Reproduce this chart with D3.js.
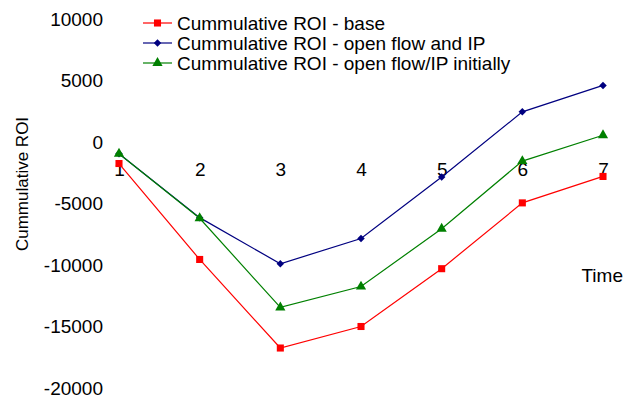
<!DOCTYPE html>
<html>
<head>
<meta charset="utf-8">
<script src="https://cdn.jsdelivr.net/npm/d3@7"></script>
<style>
  body { margin: 0; background: #fff; }
  text { font-family: "Liberation Sans", Arial, sans-serif; fill: #000; }
</style>
</head>
<body>
<svg></svg>
<script>
// values
var times = [1, 2, 3, 4, 5, 6, 7]
var roiBase = [-1750, -9550, -16750, -15000, -10300, -4950, -2800]
var roiOpen = [-950, -6150, -9900, -7850, -2850, 2450, 4600]
var roiInit = [-950, -6200, -13450, -11750, -7050, -1550, 550]
var yTicks = [10000, 5000, 0, -5000, -10000, -15000, -20000]
var seriesNames = ["Cummulative ROI - base", "Cummulative ROI - open flow and IP", "Cummulative ROI - open flow/IP initially"]

var width = 635, height = 397

var svg = d3.select("svg")
    .attr("width", width)
    .attr("height", height)

var x = d3.scaleLinear().domain([1, 7]).range([119, 603])
var y = d3.scaleLinear().domain([-20000, 10000]).range([388, 19])

//plain hyphen minus like the original
var fmt = d => String(d)

//y tick labels only, no line
var yAxis = svg.append("g")
    .attr("transform", "translate(107,0)")
    .call(d3.axisLeft(y).tickValues(yTicks).tickSize(0).tickPadding(4).tickFormat(fmt))
yAxis.select(".domain").remove()
yAxis.selectAll("text").style("font-size", "19px").style("font-family", "Liberation Sans, Arial")

//x tick labels sit under the zero line
var xAxis = svg.append("g")
    .attr("transform", `translate(0, ${y(0)})`)
    .call(d3.axisBottom(x).tickValues(times).tickSize(0).tickPadding(21).tickFormat(fmt))
xAxis.select(".domain").remove()
xAxis.selectAll("text").style("font-size", "19px").style("font-family", "Liberation Sans, Arial")

svg.append("text")
    .attr("transform", "translate(28,184) rotate(-90)")
    .attr("text-anchor", "middle")
    .style("font-size", "17px")
    .text("Cummulative ROI")

svg.append("text")
    .attr("x", 623)
    .attr("y", 282)
    .attr("text-anchor", "end")
    .style("font-size", "19px")
    .text("Time")

var series = [
    {name: seriesNames[0], values: roiBase, color: "#ff0000", symbol: d3.symbolSquare, size: 50, rot: 0},
    {name: seriesNames[1], values: roiOpen, color: "#000080", symbol: d3.symbolSquare, size: 28, rot: 45},
    {name: seriesNames[2], values: roiInit, color: "#008000", symbol: d3.symbolTriangle, size: 45, rot: 0}
]

var line = d3.line()
    .x((d, i) => x(times[i]))
    .y(d => y(d))

series.forEach(function (s) {
    svg.append("path")
        .attr("d", line(s.values))
        .attr("fill", "none")
        .attr("stroke", s.color)
        .attr("stroke-width", 1.2)

    svg.selectAll(null)
        .data(s.values)
        .enter()
        .append("path")
        .attr("transform", (d, i) => `translate(${x(times[i])}, ${y(d)}) rotate(${s.rot})`)
        .attr("d", d3.symbol().type(s.symbol).size(s.size))
        .attr("fill", s.color)
})

//legend
var legend = svg.append("g")
var rows = legend.selectAll("g")
    .data(series)
    .enter()
    .append("g")
    .attr("transform", (d, i) => `translate(0, ${23 + i * 20})`)

rows.append("line")
    .attr("x1", 143).attr("x2", 172)
    .attr("stroke", d => d.color)
    .attr("stroke-width", 1.2)
rows.append("path")
    .attr("transform", d => `translate(157.5,0) rotate(${d.rot})`)
    .attr("d", d => d3.symbol().type(d.symbol).size(d.size)())
    .attr("fill", d => d.color)
rows.append("text")
    .attr("x", 177)
    .attr("y", 7)
    .style("font-size", "19px")
    .text(d => d.name)
</script>
</body>
</html>
